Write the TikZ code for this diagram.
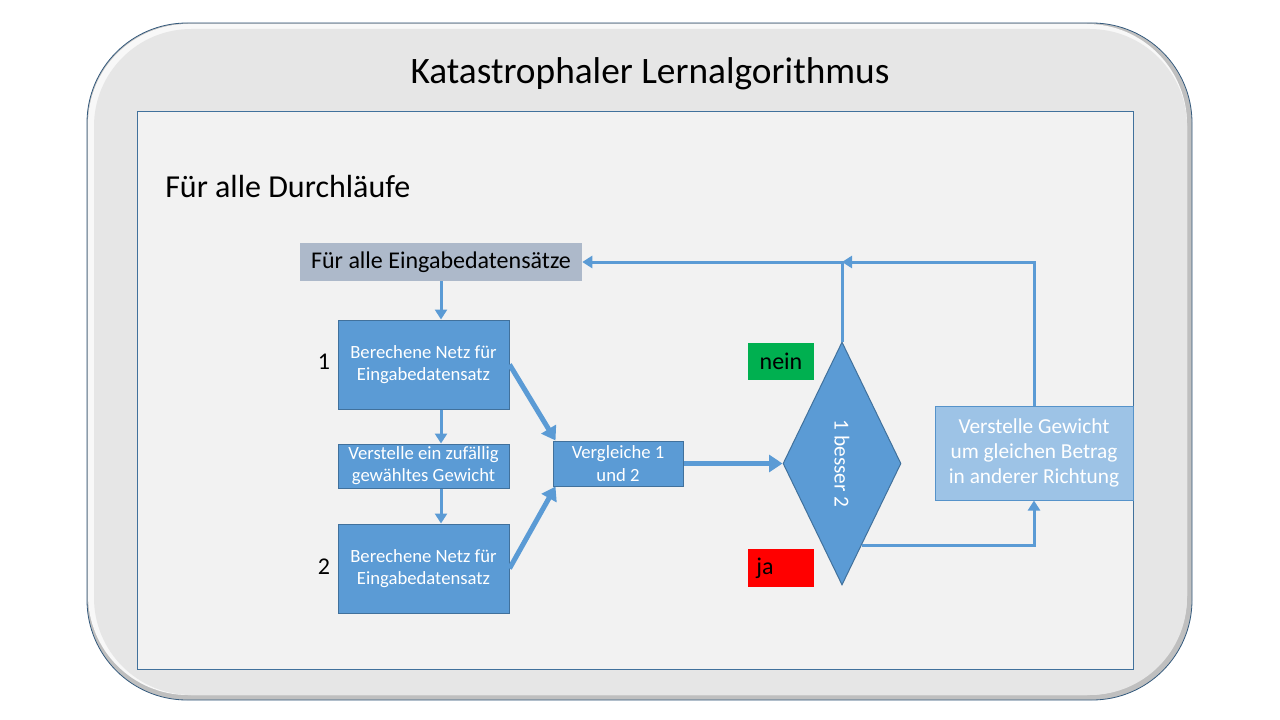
\documentclass[tikz,border=0pt]{standalone}
\usepackage{fontspec}
\setmainfont{Carlito}
\usetikzlibrary{arrows.meta,shapes.geometric,calc}
\definecolor{bl}{HTML}{5B9BD5}
\definecolor{bd}{HTML}{41719C}
\definecolor{lbl}{HTML}{9DC3E6}
\definecolor{grayb}{HTML}{ADB9CA}
\definecolor{outer}{HTML}{E6E6E6}
\definecolor{panel}{HTML}{F2F2F2}
\definecolor{grn}{HTML}{00B050}
\definecolor{rd}{HTML}{FF0000}
\tikzset{
  proc/.style={draw=bd, fill=bl, text=white, align=center, inner sep=0pt, line width=0.75pt,
    minimum width=128.25pt, font=\fontsize{14}{17}\selectfont},
  thinarr/.style={draw=bl, line width=2.25pt, -{Triangle[length=7.5pt,width=9pt]}},
  thickarr/.style={draw=bl, line width=3.75pt, -{Triangle[length=10pt,width=12.5pt]}},
  tag/.style={inner sep=0pt, minimum width=49.5pt, minimum height=28pt, font=\fontsize{18}{20}\selectfont},
  numlabel/.style={font=\fontsize{18}{20}\selectfont}
}
\begin{document}
\begin{tikzpicture}[x=0.75pt,y=-0.75pt]
\useasboundingbox (0,0) rectangle (1280,720);
\fill[white] (0,0) rectangle (1280,720);
% outer rounded frame with bevel
\filldraw[draw=bd!80!black, line width=0.6pt, fill=gray!100!black!50, rounded corners=75pt] (87,23) rectangle (1192,700);
\fill[fill=white!70!outer, rounded corners=75pt] (88,24) rectangle (1187,695);
\fill[fill=outer, rounded corners=73pt] (94,29) rectangle (1187,695);
% inner panel
\draw[draw=bd, fill=panel, line width=0.75pt] (137,112) rectangle (1133,669);
% titles
\node[anchor=base, font=\fontsize{28}{32}\selectfont] (title) at (650,84) {Katastrophaler Lernalgorithmus};
\node[anchor=base west, inner sep=0pt, font=\fontsize{24}{28}\selectfont] (loop) at (165,198) {Für alle Durchläufe};
% nodes
\node[fill=grayb, inner sep=0pt, minimum width=211.5pt, minimum height=28.5pt, font=\fontsize{18}{20}\selectfont] (eing) at (441,262) {Für alle Eingabedatensätze};
\node[proc, minimum height=66.75pt] (box1) at (423.5,364.5) {Berechene Netz für\\Eingabedatensatz};
\node[proc, minimum height=33pt, font=\fontsize{14}{16.5}\selectfont] (verst) at (423.5,466) {Verstelle ein zufällig\\gewähltes Gewicht};
\node[proc, minimum height=66.75pt] (box2) at (423.5,568.5) {Berechene Netz für\\Eingabedatensatz};
\node[numlabel] (n1) at (324,362) {1};
\node[numlabel] (n2) at (324,567) {2};
\node[proc, minimum width=97.5pt, minimum height=33.75pt] (verg) at (618,463.5) {Vergleiche 1\\und 2};
\node[diamond, draw=bd, fill=bl, line width=0.75pt, inner sep=0pt, minimum width=88.5pt, minimum height=182.25pt, text=white, font=\fontsize{16}{18}\selectfont] (dia) at (842,463.5) {\rotatebox{-90}{1 besser 2}};
\node[draw=bl!80!bd, fill=lbl, line width=0.75pt, inner sep=0pt, minimum width=148.5pt, minimum height=70.5pt, text=white, align=center, font=\fontsize{16}{19}\selectfont] (rbox) at (1034,453) {Verstelle Gewicht\\um gleichen Betrag\\in anderer Richtung};
\node[tag, fill=grn] (nein) at (781,361.5) {nein};
\node[tag, fill=rd, minimum height=28.5pt] (ja) at (781,568) {};
\node[anchor=west, inner sep=0pt, font=\fontsize{18}{20}\selectfont] (jatext) at (756,568) {ja};
% connectors
\draw[thinarr] (eing.south) -- (eing.south |- box1.north);
\draw[thinarr] (box1.south -| eing.south) -- (verst.north -| eing.south);
\draw[thinarr] (verst.south -| eing.south) -- (box2.north -| eing.south);
\draw[thickarr] (box1.east) -- ($(verg.north west)+(3,0)$);
\draw[thickarr] (box2.east) -- ($(verg.south west)+(3,0)$);
\draw[thickarr] (verg.east) -- (dia.west);
\draw[thinarr] (dia.north) |- (eing.east);
\coordinate (jastart) at ($(dia.south)!0.33!(dia.east)$);
\draw[thinarr] (jastart) -| (rbox.south);
\draw[thinarr] (rbox.north) |- (dia.north |- eing.east);
\end{tikzpicture}
\end{document}
